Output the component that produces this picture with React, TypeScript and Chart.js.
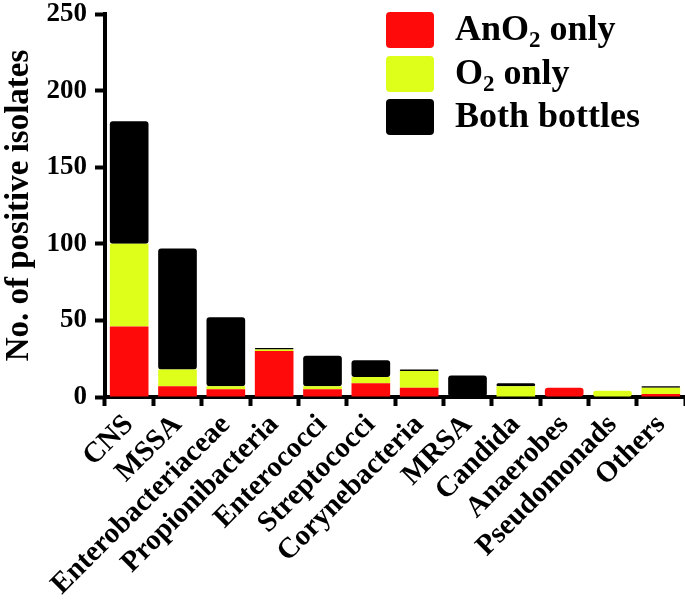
import React, { useEffect, useRef } from "react";
import { Chart, registerables } from "chart.js";

Chart.register(...registerables);

const categories = [
  "CNS",
  "MSSA",
  "Enterobacteriaceae",
  "Propionibacteria",
  "Enterococci",
  "Streptococci",
  "Corynebacteria",
  "MRSA",
  "Candida",
  "Anaerobes",
  "Pseudomonads",
  "Others",
];
const anO2Only = [46, 7, 5, 30, 5, 9, 6, 0, 0, 6, 0, 2];
const o2Only = [54, 11, 2, 1, 2, 4, 11, 0, 7, 0, 4, 4];
const bothBottles = [80, 79, 45, 1, 20, 11, 1, 14, 2, 0, 0, 1];
const yTicks = [0, 50, 100, 150, 200, 250];

const seriesLabels = ["AnO2 only", "O2 only", "Both bottles"];
const seriesColors = ["#ff0a0a", "#deff1a", "#000000"];

const FONT = "'Liberation Serif', 'Times New Roman', serif";

const legendPlugin = {
  id: "customLegend",
  afterDraw(chart: any) {
    const ctx = chart.ctx;
    ctx.save();
    const boxX = 386;
    const boxW = 48;
    const boxH = 36;
    const tops = [12, 56, 99];
    chart.data.datasets.forEach((ds: any, i: number) => {
      const y = tops[i];
      ctx.fillStyle = ds.backgroundColor;
      ctx.beginPath();
      ctx.roundRect(boxX, y, boxW, boxH, 4);
      ctx.fill();
      const label: string = ds.label;
      const baseline = y + boxH / 2 + 10;
      let x = 455;
      ctx.fillStyle = "#000";
      ctx.textBaseline = "alphabetic";
      ctx.textAlign = "left";
      const parts = label.split(/(2)/);
      parts.forEach((p) => {
        if (p === "2") {
          ctx.font = `bold 23px ${FONT}`;
          ctx.fillText(p, x, baseline + 7);
          x += ctx.measureText(p).width;
        } else if (p.length) {
          ctx.font = `bold 36px ${FONT}`;
          ctx.fillText(p, x, baseline);
          x += ctx.measureText(p).width;
        }
      });
    });
    ctx.restore();
  },
};

export default function App() {
  const ref = useRef<HTMLCanvasElement | null>(null);
  useEffect(() => {
    if (!ref.current) return;
    const values = [anO2Only, o2Only, bothBottles];
    const chart = new Chart(ref.current, {
      type: "bar",
      data: {
        labels: categories,
        datasets: values.map((v, i) => ({
          label: seriesLabels[i],
          data: v,
          backgroundColor: seriesColors[i],
          borderWidth: 0,
          borderRadius: 3,
          borderSkipped: false,
          barPercentage: 0.8,
          categoryPercentage: 1,
        })),
      },
      options: {
        animation: false,
        responsive: false,
        maintainAspectRatio: false,
        layout: { padding: { top: 14, right: 0, left: 0, bottom: 0 } },
        plugins: {
          legend: { display: false },
          tooltip: { enabled: false },
        },
        scales: {
          x: {
            stacked: true,
            grid: {
              display: true,
              drawOnChartArea: false,
              drawTicks: true,
              tickLength: 9,
              tickWidth: 4,
              tickColor: "#000",
            },
            border: { display: true, color: "#000", width: 4 },
            ticks: {
              minRotation: 45,
              maxRotation: 45,
              autoSkip: false,
              padding: 2,
              color: "#000",
              font: { family: FONT, size: 29, weight: "bold" },
            },
            afterFit(scale: any) {
              scale.height = 208;
              scale.paddingLeft = 0;
              scale.paddingRight = 0;
            },
          },
          y: {
            stacked: true,
            min: 0,
            max: 250,
            afterBuildTicks(scale: any) {
              scale.ticks = yTicks.map((v) => ({ value: v }));
            },
            grid: {
              display: true,
              drawOnChartArea: false,
              drawTicks: true,
              tickLength: 10,
              tickWidth: 4,
              tickColor: "#000",
            },
            border: { display: true, color: "#000", width: 4 },
            ticks: {
              padding: 8,
              color: "#000",
              font: { family: FONT, size: 27, weight: "bold" },
            },
            title: {
              display: true,
              text: "No. of positive isolates",
              color: "#000",
              padding: { top: 0, bottom: 4 },
              font: { family: FONT, size: 33, weight: "bold" },
            },
            afterFit(scale: any) {
              scale.width = 105;
              scale.paddingTop = 0;
              scale.paddingBottom = 0;
            },
          },
        },
      },
      plugins: [legendPlugin],
    });
    return () => chart.destroy();
  }, []);
  return (
    <div style={{ position: "fixed", left: 0, top: 0, width: 685, height: 605, background: "#fff" }}>
      <canvas ref={ref} width={685} height={605} style={{ width: 685, height: 605 }} />
    </div>
  );
}
